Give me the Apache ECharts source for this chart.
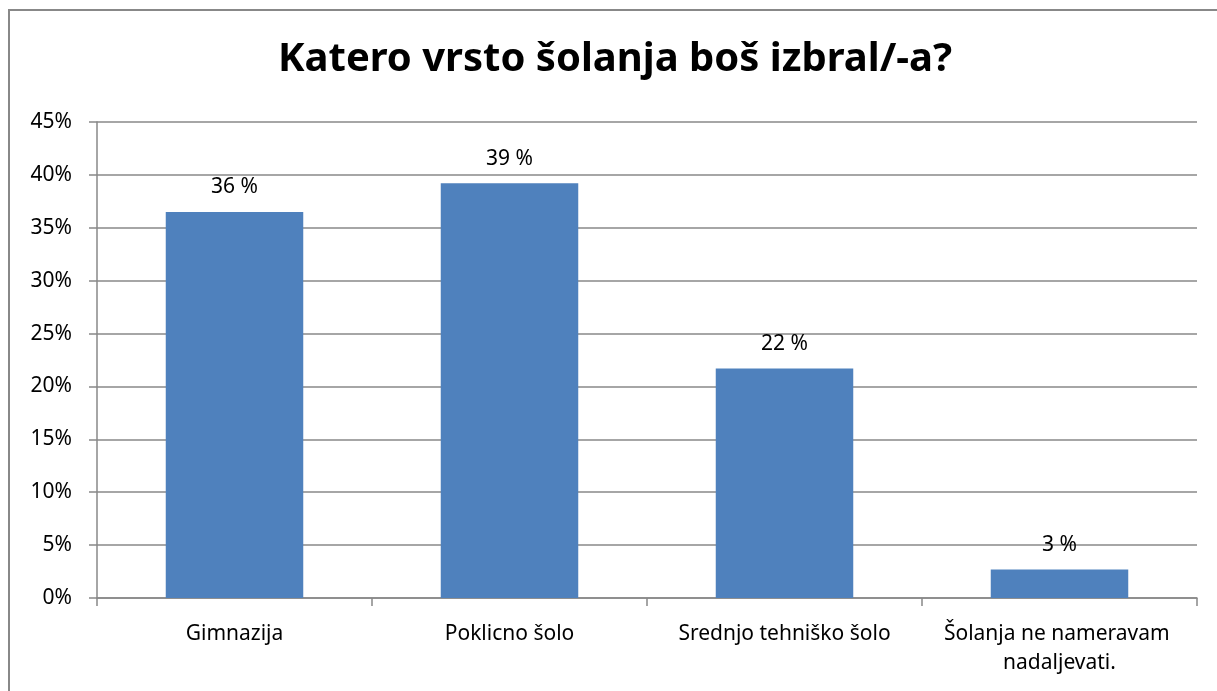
<!DOCTYPE html>
<html>
<head>
<meta charset="utf-8">
<script src="https://cdn.jsdelivr.net/npm/echarts@6/dist/echarts.min.js"></script>
<style>
html,body{margin:0;padding:0;background:#fff;}
#main{width:1217px;height:691px;}
</style>
</head>
<body>
<div id="main"></div>
<script>
const titleText = 'Katero vrsto šolanja boš izbral/-a?';
const categories = ['Gimnazija', 'Poklicno šolo', 'Srednjo tehniško šolo', 'Šolanja ne nameravam nadaljevati.'];
const values = [36.5, 39.2, 21.7, 2.7];
const valueLabels = ['36 %', '39 %', '22 %', '3 %'];
const yTicks = [0, 5, 10, 15, 20, 25, 30, 35, 40, 45];

const FONT = '"Noto Sans", "DejaVu Sans", sans-serif';
const chart = echarts.init(document.getElementById('main'));
chart.setOption({
  backgroundColor: '#fff',
  animation: false,
  title: {
    text: titleText,
    left: 278,
    top: 40,
    padding: 0,
    textStyle: { fontFamily: FONT, fontSize: 40, fontWeight: 'bold', color: '#000' }
  },
  graphic: [{
    type: 'polyline',
    shape: { points: [[9, 700], [9, 10], [1230, 10]] },
    style: { stroke: '#888', lineWidth: 2, fill: null },
    silent: true
  }],
  grid: { left: 97, right: 20, top: 122, bottom: 93 },
  xAxis: {
    type: 'category',
    data: categories,
    axisLine: { lineStyle: { color: '#888', width: 1.5 } },
    axisTick: { show: true, length: 8, lineStyle: { color: '#888', width: 1.5 } },
    axisLabel: {
      margin: 22, fontFamily: FONT, fontSize: 21, color: '#000',
      interval: 0, width: 260, overflow: 'break', lineHeight: 29
    }
  },
  yAxis: {
    type: 'value',
    min: 0, max: 45, interval: 5,
    axisLine: { show: true, lineStyle: { color: '#888', width: 1.5 } },
    axisTick: { show: true, length: 8, lineStyle: { color: '#888', width: 1.5 } },
    splitLine: { lineStyle: { color: '#888', width: 1.5 } },
    axisLabel: {
      margin: 25, fontFamily: FONT, fontSize: 21, color: '#000',
      formatter: v => yTicks.includes(v) ? v + '%' : ''
    }
  },
  series: [{
    type: 'bar',
    data: values,
    barCategoryGap: '50%',
    itemStyle: { color: '#4F81BD' },
    label: {
      show: true, position: 'top', distance: 14,
      fontFamily: FONT, fontSize: 21, color: '#000',
      formatter: p => valueLabels[p.dataIndex]
    }
  }]
});
</script>
</body>
</html>
